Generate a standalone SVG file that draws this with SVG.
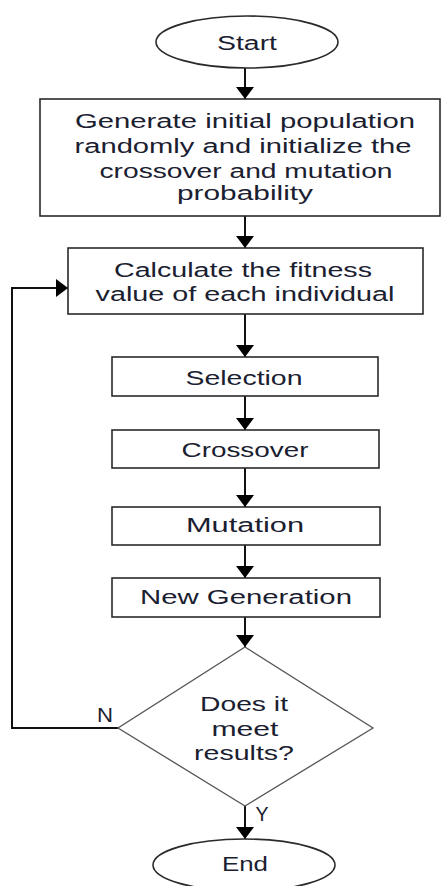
<svg xmlns="http://www.w3.org/2000/svg" width="441" height="886" viewBox="0 0 441 886">
<style>
.box{fill:#fff;stroke:#2a2a2a;stroke-width:1.6}
.dia{fill:#fff;stroke:#555;stroke-width:1.3}
.t{font-family:"Liberation Sans",Arial,sans-serif;font-size:20px;fill:#1a2030;text-anchor:middle}
.c{fill:none;stroke:#111;stroke-width:2}
</style>
<defs>
<marker id="ah" markerWidth="6" markerHeight="9" refX="6" refY="4.5" orient="auto" markerUnits="strokeWidth">
<path d="M0,0 L6,4.5 L0,9 Z" fill="#000"/>
</marker>
</defs>
<rect width="441" height="886" fill="#fff"/>
<g id="connectors">
<line class="c" x1="245" y1="68" x2="245" y2="99" marker-end="url(#ah)"/>
<line class="c" x1="245" y1="216" x2="245" y2="248" marker-end="url(#ah)"/>
<line class="c" x1="245" y1="314" x2="245" y2="357" marker-end="url(#ah)"/>
<line class="c" x1="245" y1="396" x2="245" y2="430" marker-end="url(#ah)"/>
<line class="c" x1="245" y1="468" x2="245" y2="507" marker-end="url(#ah)"/>
<line class="c" x1="245" y1="545" x2="245" y2="578" marker-end="url(#ah)"/>
<line class="c" x1="245" y1="617" x2="245" y2="647" marker-end="url(#ah)"/>
<line class="c" x1="245" y1="806" x2="245" y2="839" marker-end="url(#ah)"/>
<polyline class="c" points="118,728 12,728 12,288 68,288" marker-end="url(#ah)"/>
<text class="t" x="105" y="722" textLength="16" lengthAdjust="spacingAndGlyphs">N</text>
<text class="t" x="262" y="821" textLength="13" lengthAdjust="spacingAndGlyphs">Y</text>
</g>
<g id="start">
<ellipse class="box" cx="247" cy="42" rx="91" ry="26"/>
<text class="t" x="247" y="50" textLength="60" lengthAdjust="spacingAndGlyphs">Start</text>
</g>
<g id="init">
<rect class="box" x="40" y="99" width="400" height="117"/>
<text class="t" x="245" y="128" textLength="340" lengthAdjust="spacingAndGlyphs">Generate initial population</text>
<text class="t" x="243" y="153" textLength="337" lengthAdjust="spacingAndGlyphs">randomly and initialize the</text>
<text class="t" x="246" y="178" textLength="293" lengthAdjust="spacingAndGlyphs">crossover and mutation</text>
<text class="t" x="245" y="200" textLength="136" lengthAdjust="spacingAndGlyphs">probability</text>
</g>
<g id="fitness">
<rect class="box" x="68" y="248" width="355" height="66"/>
<text class="t" x="243" y="277" textLength="258" lengthAdjust="spacingAndGlyphs">Calculate the fitness</text>
<text class="t" x="245" y="301" textLength="299" lengthAdjust="spacingAndGlyphs">value of each individual</text>
</g>
<g id="selection">
<rect class="box" x="112" y="357" width="266" height="39"/>
<text class="t" x="244" y="385" textLength="117" lengthAdjust="spacingAndGlyphs">Selection</text>
</g>
<g id="crossover">
<rect class="box" x="112" y="430" width="267" height="38"/>
<text class="t" x="245" y="457" textLength="127" lengthAdjust="spacingAndGlyphs">Crossover</text>
</g>
<g id="mutation">
<rect class="box" x="112" y="507" width="268" height="38"/>
<text class="t" x="245" y="532" textLength="118" lengthAdjust="spacingAndGlyphs">Mutation</text>
</g>
<g id="newgen">
<rect class="box" x="112" y="578" width="268" height="39"/>
<text class="t" x="246" y="604" textLength="212" lengthAdjust="spacingAndGlyphs">New Generation</text>
</g>
<g id="decision">
<polygon class="dia" points="245,647 373,728 245,806 118,728"/>
<text class="t" x="244" y="711" textLength="88" lengthAdjust="spacingAndGlyphs">Does it</text>
<text class="t" x="245" y="736" textLength="67" lengthAdjust="spacingAndGlyphs">meet</text>
<text class="t" x="244" y="760" textLength="100" lengthAdjust="spacingAndGlyphs">results?</text>
</g>
<g id="end">
<ellipse class="box" cx="244" cy="865" rx="91" ry="26"/>
<text class="t" x="245" y="871" textLength="46" lengthAdjust="spacingAndGlyphs">End</text>
</g>
</svg>
